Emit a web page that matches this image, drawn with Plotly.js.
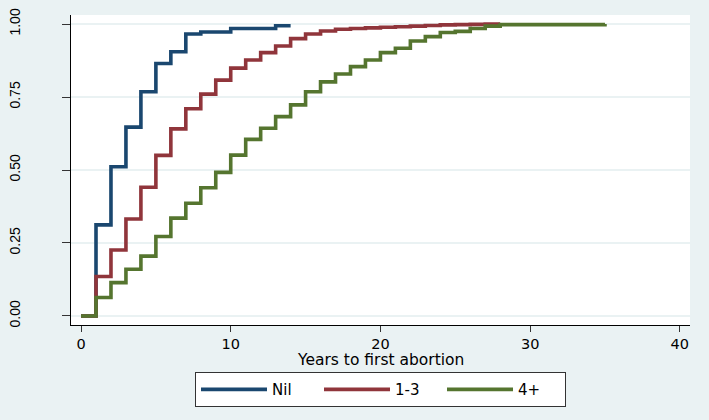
<!DOCTYPE html>
<html>
<head>
<meta charset="utf-8">
<script src="https://cdn.plot.ly/plotly-3.0.1.min.js"></script>
<style>html,body{margin:0;padding:0;background:#EAF2F3;}#chart{width:709px;height:420px;}</style>
</head>
<body>
<div id="chart"></div>
<script>
// Kaplan-Meier failure estimates by group (years to first abortion)
var seriesNames = ["Nil", "1-3", "4+"];
var nilYears = [0, 1, 2, 3, 4, 5, 6, 7, 8, 10, 13, 14];
var nilFail  = [0, 0.312, 0.511, 0.647, 0.768, 0.865, 0.905, 0.966, 0.973, 0.985, 0.994, 0.994];
var midYears = [0,1,2,3,4,5,6,7,8,9,10,11,12,13,14,15,16,17,18,19,20,21,22,23,24,25,26,27,28];
var midFail  = [0,0.135,0.226,0.332,0.441,0.550,0.641,0.710,0.760,0.808,0.849,0.877,0.902,0.925,0.950,0.966,0.976,0.982,0.985,0.987,0.989,0.991,0.993,0.995,0.997,0.998,0.999,1.0,1.0];
var highYears = [0,1,2,3,4,5,6,7,8,9,10,11,12,13,14,15,16,17,18,19,20,21,22,23,24,25,26,27,28,35];
var highFail  = [0,0.063,0.114,0.160,0.205,0.272,0.335,0.386,0.439,0.492,0.551,0.605,0.643,0.683,0.723,0.768,0.802,0.829,0.854,0.877,0.902,0.917,0.942,0.957,0.971,0.975,0.985,0.993,0.998,1.0];
var xTicks = [0, 10, 20, 30, 40];
var yTicks = [0, 0.25, 0.5, 0.75, 1];
var yTickLabels = ["0.00", "0.25", "0.50", "0.75", "1.00"];
var xTitle = "Years to first abortion";
var colors = ["#1a476f", "#90353b", "#55752f"];

var xs = [nilYears, midYears, highYears];
var ys = [nilFail, midFail, highFail];
var traces = xs.map(function (x, i) {
  return {
    x: x, y: ys[i], name: seriesNames[i], type: "scatter", mode: "lines",
    line: {shape: "hv", color: colors[i], width: 3.6}
  };
});

var hfont = {family: "DejaVu Sans, sans-serif", size: 15.5, color: "#000"};
var tfont = {family: "DejaVu Sans, sans-serif", size: 14.5, color: "#000"};
var lfont = {family: "DejaVu Sans, sans-serif", size: 15, color: "#000"};
var vfont = {family: "Liberation Sans, Arial, sans-serif", size: 14, color: "#000"};
var layout = {
  width: 709, height: 420,
  margin: {l: 71, r: 19, t: 15, b: 95, autoexpand: false},
  paper_bgcolor: "#EAF2F3", plot_bgcolor: "#ffffff",
  font: hfont,
  showlegend: true,
  legend: {
    orientation: "h", x: 0.5, xanchor: "center", xref: "paper",
    y: -0.152, yanchor: "top",
    bgcolor: "#ffffff", bordercolor: "#333333", borderwidth: 1,
    font: lfont, itemwidth: 66, entrywidth: 42, traceorder: "normal"
  },
  annotations: [{
    text: xTitle, xref: "paper", yref: "paper", x: 0.5, y: -0.113,
    xanchor: "center", yanchor: "middle", showarrow: false, font: hfont
  }],
  xaxis: {
    range: [-0.67, 40.68], tickvals: xTicks, ticktext: xTicks.map(String),
    showgrid: false, zeroline: false, showline: true, linecolor: "#000", linewidth: 1,
    ticks: "outside", ticklen: 6, tickcolor: "#333", tickfont: tfont
  },
  yaxis: {
    range: [-0.031, 1.031], tickvals: yTicks, ticktext: yTickLabels,
    showgrid: true, gridcolor: "#EAF2F3", gridwidth: 1.5, zeroline: false,
    showline: true, linecolor: "#000", linewidth: 1,
    ticks: "outside", ticklen: 8, tickcolor: "#333", tickfont: vfont,
    tickangle: -90, ticklabelstandoff: 36
  }
};
Plotly.newPlot("chart", traces, layout, {displayModeBar: false, staticPlot: true});
</script>
</body>
</html>
